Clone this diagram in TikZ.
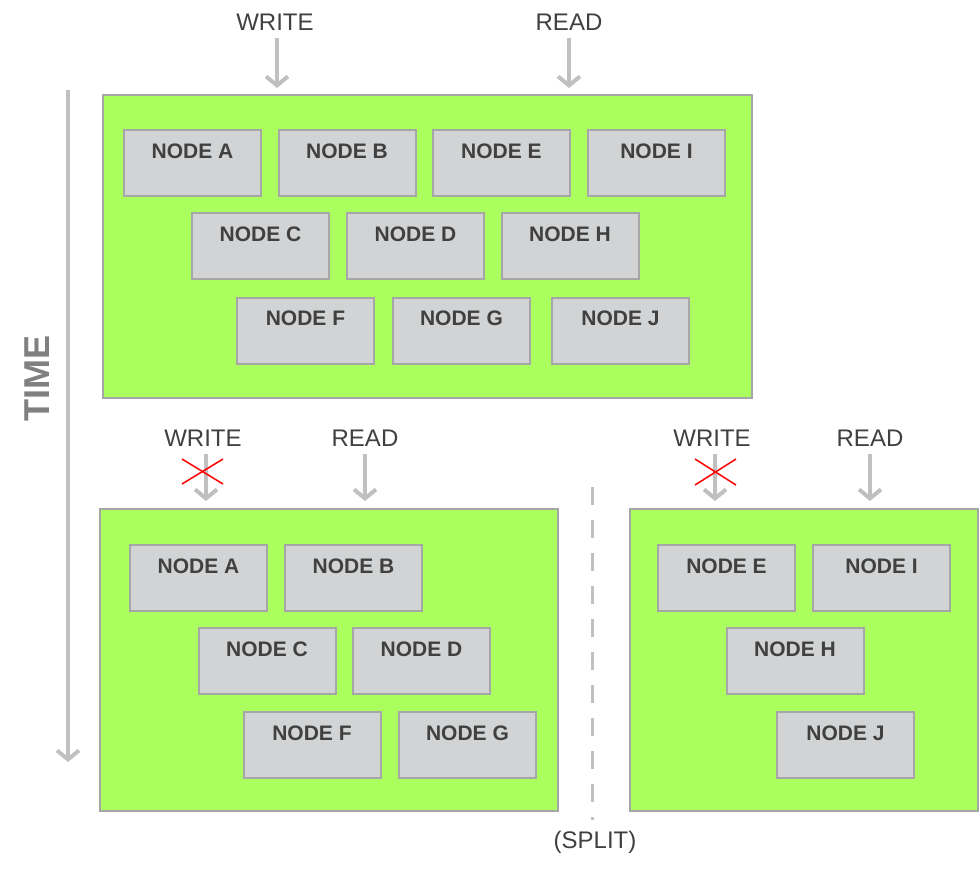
\documentclass[tikz,border=0pt]{standalone}
\usepackage{fontspec}
\setmainfont{Liberation Sans}
\usetikzlibrary{arrows.meta}

\definecolor{leaf}{RGB}{170,255,94}
\definecolor{rim}{RGB}{166,166,166}
\definecolor{slab}{RGB}{209,211,212}
\definecolor{ink}{RGB}{64,64,64}
\definecolor{flowgray}{RGB}{192,192,192}

\tikzset{
	frame/.style={draw=rim, line width=2pt, fill=leaf},
	nodebox/.style={draw=rim, line width=2pt, fill=slab, minimum width=137pt,
		text height=15pt, text depth=25pt, inner ysep=13pt, inner xsep=0pt,
		text=ink, font=\fontsize{21}{21}\selectfont\bfseries},
	tag/.style={text=ink, font=\fontsize{24}{24}\selectfont, inner sep=2pt},
	flow/.style={draw=flowgray, line width=4pt,
		-{Straight Barb[length=9pt,width=22pt,line width=4pt]}},
	cross/.style={draw=red, line width=1.5pt}
}

\begin{document}
\begin{tikzpicture}[x=1pt,y=-1pt]
	\useasboundingbox (0,0) rectangle (980,871);

	% before the split
	\draw[frame] (103,95) rectangle (752,398);
	\node[nodebox] (a1) at (192.5,163) {NODE A};
	\node[nodebox] (b1) at (347,163) {NODE B};
	\node[nodebox] (e1) at (501.5,163) {NODE E};
	\node[nodebox] (i1) at (656.5,163) {NODE I};
	\node[nodebox] (c1) at (260.5,246) {NODE C};
	\node[nodebox] (d1) at (415.5,246) {NODE D};
	\node[nodebox] (h1) at (570,246) {NODE H};
	\node[nodebox] (f1) at (305.5,330.5) {NODE F};
	\node[nodebox] (g1) at (461.5,330.5) {NODE G};
	\node[nodebox] (j1) at (620.5,330.5) {NODE J};

	\node[tag] (write1) at (275,22) {WRITE};
	\node[tag] (read1) at (569,22) {READ};
	\coordinate (write1end) at (277,88);
	\coordinate (read1end) at (569,88);
	\draw[flow] (write1.south -| write1end) ++(0,6) -- (write1end);
	\draw[flow] (read1.south -| read1end) ++(0,6) -- (read1end);

	% time
	\coordinate (timetop) at (68,90);
	\coordinate (timebot) at (68,762);
	\draw[flow] (timetop) -- (timebot);
	\node[rotate=90, text={rgb,255:red,128;green,128;blue,128},
		font=\fontsize{36}{36}\selectfont\bfseries] (time) at (37,378) {TIME};

	% left part
	\draw[frame] (100,509) rectangle (558,811);
	\node[nodebox] (a2) at (198.5,578) {NODE A};
	\node[nodebox] (b2) at (353.5,578) {NODE B};
	\node[nodebox] (c2) at (267,661) {NODE C};
	\node[nodebox] (d2) at (421.5,661) {NODE D};
	\node[nodebox] (f2) at (312,745) {NODE F};
	\node[nodebox] (g2) at (467.5,745) {NODE G};

	\node[tag] (write2) at (203,438) {WRITE};
	\node[tag] (read2) at (365,438) {READ};
	\coordinate (write2end) at (206,501);
	\coordinate (read2end) at (365,501);
	\draw[flow] (write2.south -| write2end) ++(0,6) -- (write2end);
	\draw[flow] (read2.south -| read2end) ++(0,6) -- (read2end);
	\draw[cross] (182,459) -- (223,484);
	\draw[cross] (182,484) -- (223,459);

	% right part
	\draw[frame] (630,509) rectangle (978,811);
	\node[nodebox] (e2) at (726.5,578) {NODE E};
	\node[nodebox] (i2) at (881.5,578) {NODE I};
	\node[nodebox] (h2) at (795,661) {NODE H};
	\node[nodebox] (j2) at (845.5,745) {NODE J};

	\node[tag] (write3) at (712,438) {WRITE};
	\node[tag] (read3) at (870,438) {READ};
	\coordinate (write3end) at (715,501);
	\coordinate (read3end) at (870,501);
	\draw[flow] (write3.south -| write3end) ++(0,6) -- (write3end);
	\draw[flow] (read3.south -| read3end) ++(0,6) -- (read3end);
	\draw[cross] (695,459) -- (736,485);
	\draw[cross] (695,485) -- (736,459);

	% split
	\draw[flowgray, line width=3pt, dash pattern=on 18pt off 15pt] (592,487) -- (592,820);
	\node[tag] (split) at (595,842) {(SPLIT)};

\end{tikzpicture}
\end{document}
